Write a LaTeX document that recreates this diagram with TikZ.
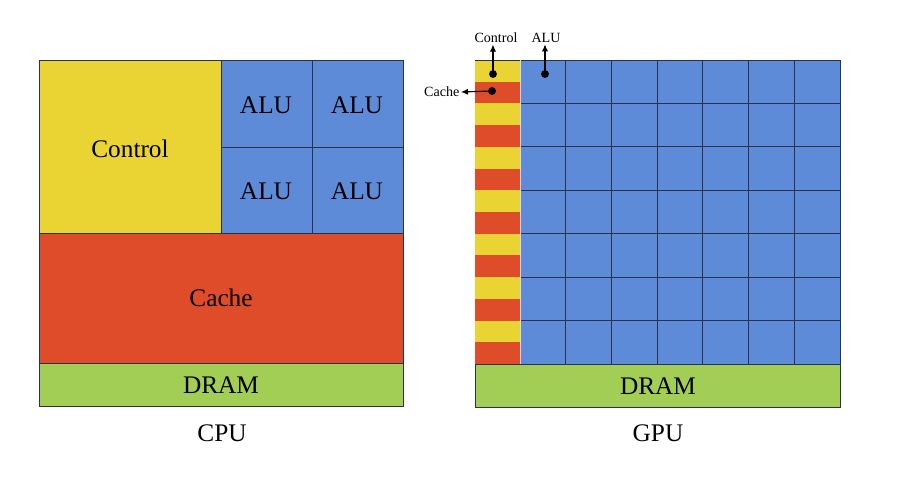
\documentclass[tikz,border=0pt]{standalone}
\usepackage{fontspec}
\setmainfont{Liberation Serif}
\usetikzlibrary{arrows.meta}
\definecolor{ctrlyellow}{RGB}{233,212,52}
\definecolor{cachered}{RGB}{223,76,42}
\definecolor{alublue}{RGB}{94,139,216}
\definecolor{dramgreen}{RGB}{163,206,86}
\definecolor{edgegray}{RGB}{40,50,75}
\tikzset{
	block/.style={draw=edgegray, line width=0.6pt},
	bigtext/.style={font=\fontsize{18}{20}\selectfont},
	smalltext/.style={font=\fontsize{10}{12}\selectfont, inner sep=1pt},
	pointer/.style={-{Latex[length=5pt,width=4.5pt]}, line width=0.8pt},
}

\begin{document}
\begin{tikzpicture}[x=0.025cm, y=-0.025cm]
	%%%%% START %%%%%
	\useasboundingbox (0,0) rectangle (902,478);
	
	% CPU
	\draw[block, fill=ctrlyellow] (39,60) rectangle (221,233);
	\draw[block, fill=alublue] (221,60) rectangle (403,233);
	\draw[block] (312,60) -- (312,233);
	\draw[block] (221,147) -- (403,147);
	\draw[block, fill=cachered] (39,233) rectangle (403,363);
	\draw[block, fill=dramgreen] (39,363) rectangle (403,406);
	
	\node[bigtext] (cpuctrl) at (130,149) {Control};
	\node[bigtext] (alua) at (266,105) {ALU};
	\node[bigtext] (alub) at (357,105) {ALU};
	\node[bigtext] (aluc) at (266,191) {ALU};
	\node[bigtext] (alud) at (357,191) {ALU};
	\node[bigtext] (cpucache) at (221,298) {Cache};
	\node[bigtext] (cpudram) at (221,385) {DRAM};
	\node[bigtext] (cpu) at (222,433) {CPU};
	
	% GPU
	\draw[block, fill=alublue] (520,60) rectangle (840,364);
	\foreach \r in {0,...,6} {
		\fill[ctrlyellow] (475,{60+43.43*\r}) rectangle (520,{60+43.43*\r+21.71});
		\fill[cachered] (475,{60+43.43*\r+21.71}) rectangle (520,{60+43.43*(\r+1)});
	}
	\foreach \c in {1,...,6}
		\draw[block] ({520+45.71*\c},60) -- ({520+45.71*\c},364);
	\foreach \r in {1,...,6}
		\draw[block] (520,{60+43.43*\r}) -- (840,{60+43.43*\r});
	\draw[block] (475,60) -- (840,60);
	\draw[white!85!black, line width=0.6pt] (520,60.3) -- (520,363.7);
	\draw[block, fill=dramgreen] (475,364) rectangle (840,407);
	
	\node[bigtext] (gpudram) at (658,386) {DRAM};
	\node[bigtext] (gpu) at (658,433) {GPU};
	
	% callouts
	\coordinate (ctrldot) at (493,74);
	\coordinate (aludot) at (545,74);
	\coordinate (cachedot) at (492,91);
	\fill (ctrldot) circle[radius=2.8pt];
	\fill (aludot) circle[radius=2.8pt];
	\fill (cachedot) circle[radius=2.8pt];
	
	\node[smalltext] (gctrl) at (496,38) {Control};
	\node[smalltext] (galu) at (546,38) {ALU};
	\node[smalltext, anchor=east] (gcache) at (461,92) {Cache};
	
	\draw[pointer] (ctrldot) -- (ctrldot |- gctrl.south);
	\draw[pointer] (aludot) -- (aludot |- galu.south);
	\draw[pointer] (cachedot) -- (gcache.east);
	
	%%%%% END %%%%%
\end{tikzpicture}
\end{document}
